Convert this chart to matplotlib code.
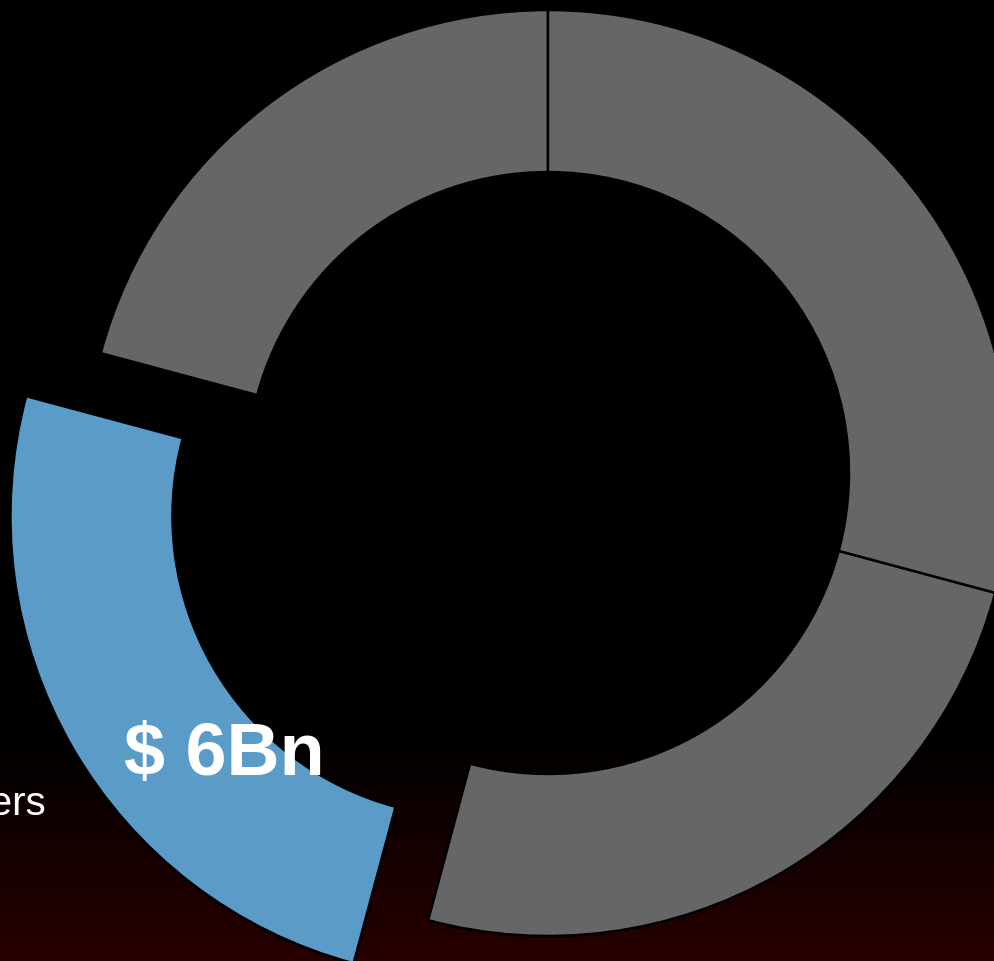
import numpy as np
import matplotlib
matplotlib.use("Agg")
import matplotlib.pyplot as plt
from matplotlib.colors import LinearSegmentedColormap

# Market segments (US$ billions), drawn counter-clockwise from 12 o'clock
segments = ["Segment A", "Others", "Segment C", "Segment D"]
values_bn = [5, 6, 6, 7]
highlight = "Others"

GREY = "#666666"
BLUE = "#5b9bc8"

W, H, DPI = 994, 961, 100
fig = plt.figure(figsize=(W / DPI, H / DPI), dpi=DPI)

# Background: black fading into a deep red at the bottom
bg = fig.add_axes([0, 0, 1, 1])
bg.set_axis_off()
rows = np.linspace(0, 1, H)
ramp = np.clip((rows - 0.76) / 0.24, 0, 1)[:, None]
cmap = LinearSegmentedColormap.from_list("bg", ["#000000", "#270000"])
bg.imshow(ramp, cmap=cmap, aspect="auto", extent=[0, 1, 0, 1], origin="upper",
          interpolation="bilinear", vmin=0, vmax=1)

ax = fig.add_axes([0, 0, 1, 1])
ax.set_facecolor("none")
ax.set_axis_off()

colors = [BLUE if s == highlight else GREY for s in segments]
explode = [0.186 if s == highlight else 0 for s in segments]

wedges, _ = ax.pie(values_bn, colors=colors, explode=explode, startangle=90,
                   counterclock=True, radius=1.0,
                   wedgeprops=dict(width=0.35, edgecolor="black", linewidth=1.8))

# Pixel-scaled view: the ring is centred at (548, 473) px with radius 463 px
R_PX, CX, CY = 463.0, 548.0, 473.0
ax.set_aspect("auto")
ax.set_xlim(-CX / R_PX, (W - CX) / R_PX)
ax.set_ylim(-(H - CY) / R_PX, CY / R_PX)

idx = segments.index(highlight)
ax.text(-0.698, -0.652, f"$ {values_bn[idx]}Bn", color="white", fontsize=53,
        fontweight="bold", family="Liberation Sans", ha="center", va="baseline")
ax.text(-1.084, -0.739, highlight, color="white", fontsize=29,
        family="Liberation Sans", ha="right", va="baseline", clip_on=False)

fig.savefig("out.png", dpi=DPI, facecolor="black")
